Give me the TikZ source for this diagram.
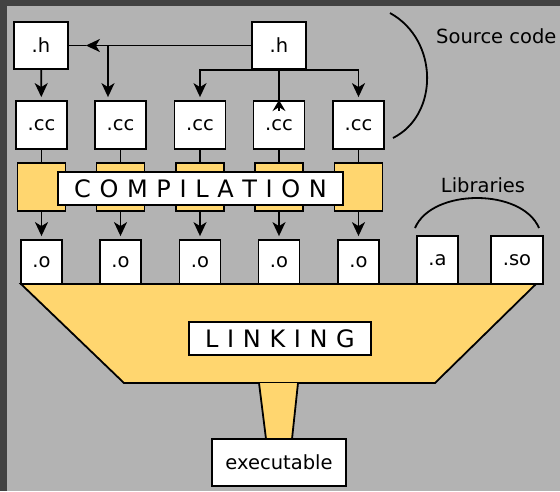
\documentclass[tikz,border=0pt]{standalone}
\usepackage{fontspec}
\setmainfont{DejaVu Sans}
\usepackage{xcolor}
\definecolor{myy}   {RGB}{255, 214, 111}
\definecolor{mybg}  {RGB}{179, 179, 179}
\definecolor{mydark}{RGB}{66, 66, 66}
\usetikzlibrary{arrows.meta, positioning, calc}
\newcommand\wide[1]{\spaceskip=.36em\relax #1}

\begin{document}
\begin{tikzpicture}[x=1pt, y=-1pt, line width=1.8pt,
    file/.style={draw, fill=white, inner sep=0pt, font=\fontsize{19.5}{24}\selectfont},
    stage/.style={draw, fill=white, inner sep=0pt, font=\fontsize{24}{28}\selectfont},
    arr/.style={-{Stealth[length=14pt, width=13pt, inset=4pt]}, shorten >=3pt}]
    % frame and background
    \fill[mydark] (0,0) rectangle (560,491);
    \fill[mybg] (7,6) rectangle (560,491);
    \useasboundingbox (0,0) rectangle (560,491);

    % linking funnel
    \draw[fill=myy] (21,284) -- (536,284) -- (435,383) -- (124,383) -- cycle;
    \fill[myy] (259,383) -- (298,383) -- (292,439) -- (266,439) -- cycle;
    \draw (259,383) -- (266,439) (298,383) -- (292,439);

    % headers
    \node[file, minimum width=54, minimum height=47] (hl) at (41,45.5) {.h};
    \node[file, minimum width=54, minimum height=47] (hr) at (279,45.5) {.h};

    % sources -> compile -> objects
    \foreach \i/\x in {1/41.5, 2/120.5, 3/200, 4/279, 5/358.5}
    {
        \node[file, minimum width=51, minimum height=48] (cc\i) at (\x,125) {.cc};
        \node[draw, fill=myy, minimum width=48, minimum height=48, inner sep=0pt] (c\i) at (\x,187) {};
        \node[file, minimum width=41, minimum height=44] (o\i) at (\x,262) {.o};
        \draw (cc\i) -- (c\i);
        \draw[arr] (c\i) -- (o\i);
    }
    \node[stage, minimum width=285, minimum height=33] (comp) at (200.5,188.5) {\wide{C O M P I L A T I O N}};

    % libraries
    \node[file, minimum width=41, minimum height=48] (liba) at (437.5,260) {.a};
    \node[file, minimum width=52, minimum height=48] (libso) at (517,260) {.so};
    \draw (415,228) .. controls (432,188) and (522,188) .. (539,228);
    \node[anchor=base, font=\fontsize{19.5}{24}\selectfont] (lib) at (483,192) {Libraries};

    \node[stage, minimum width=182, minimum height=33] (link) at (280,338.5) {\wide{L I N K I N G}};
    \node[file, minimum width=134, minimum height=47] (exe) at (279,462.5) {executable};

    % include edges
    \draw[arr] (hl) -- (cc1);
    \coordinate (tip) at ($(hl.east)+(17,0)$);
    \draw (hl.east) -- (tip);
    \draw[arr, shorten >=0pt] (hr.west) -- (tip);
    \coordinate (br) at ([xshift=-12.5pt]cc2.north);
    \draw[arr] (br |- hl.east) -- (br);
    \draw[arr] (hr.south) -| (cc3.north);
    \draw[arr] (hr.south) -| (cc5.north);
    \draw (hr.south) -- (cc4.north);
    \draw[{Stealth[length=11pt, width=13pt, inset=4pt]}-] (cc4.north) -- ++(0,11);

    % source code brace
    \draw (390,13) .. controls (439,40) and (439,115) .. (393,138);
    \node[anchor=base west, font=\fontsize{19.5}{24}\selectfont] (src) at (432,43) {Source code};
\end{tikzpicture}
\end{document}
